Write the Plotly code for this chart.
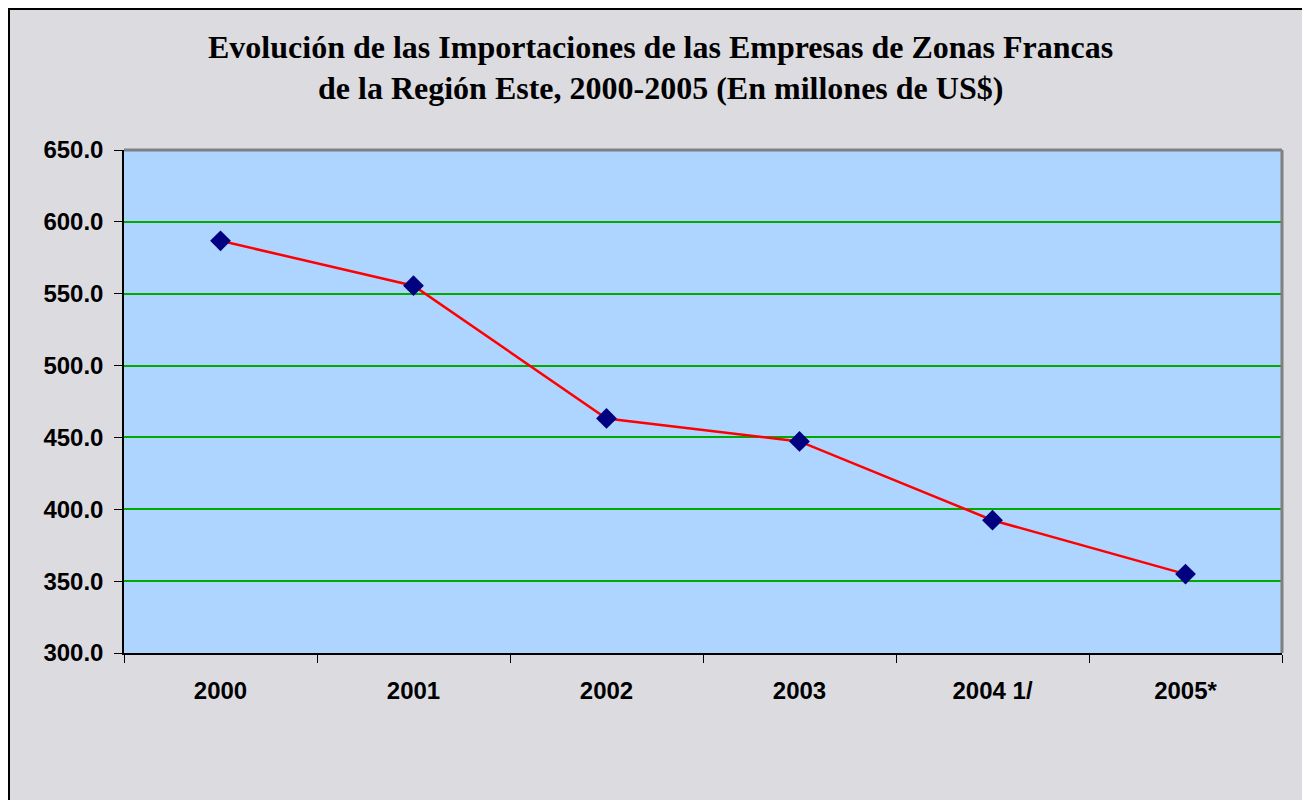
import plotly.graph_objects as go

years = ["2000", "2001", "2002", "2003", "2004 1/", "2005*"]
imports = [586.8, 555.6, 463.2, 447.2, 392.4, 354.9]
y_ticks = [300, 350, 400, 450, 500, 550, 600, 650]
title_lines = [
    "Evolución de las Importaciones de las Empresas de Zonas Francas",
    "de la Región Este, 2000-2005 (En millones de US$)",
]

# page offset from default body margin
OFF = 8
W, H = 1310 - OFF, 800 - OFF
L, R, T, B = 124 - OFF, 28, 150 - OFF, 147
pw, ph = W - L - R, H - T - B


def px_x(xp):
    return (xp - 124) / pw


def px_y(yp):
    return 1 + (150 - yp) / ph


fig = go.Figure()
fig.add_trace(go.Scatter(
    x=years, y=imports, mode="lines+markers",
    line=dict(color="#FF0000", width=2.5),
    marker=dict(symbol="diamond", size=16, color="#000080",
                line=dict(color="#000080", width=0)),
    cliponaxis=False, showlegend=False,
))

title_font = dict(family="Liberation Serif, Times New Roman, serif", size=32,
                  color="#000000", weight="bold")
annotations = [
    dict(text=title_lines[0], xref="paper", yref="paper", x=px_x(660), y=px_y(47),
         xanchor="center", yanchor="middle", showarrow=False, font=title_font),
    dict(text=title_lines[1], xref="paper", yref="paper", x=px_x(660), y=px_y(88),
         xanchor="center", yanchor="middle", showarrow=False, font=title_font),
]

tick_font = dict(family="Liberation Sans, Arial, sans-serif", size=24,
                 color="#000000", weight="bold")

fig.update_layout(
    template="none",
    width=W, height=H,
    margin=dict(l=L, r=R, t=T, b=B),
    paper_bgcolor="#DCDCE0",
    plot_bgcolor="#ADD5FF",
    annotations=annotations,
    xaxis=dict(
        type="category", range=[-0.5, 5.5],
        tickson="boundaries", ticks="outside", ticklen=8, tickcolor="#000000",
        tickwidth=1,
        showline=True, linecolor="#000000", linewidth=1.5,
        showgrid=False, zeroline=False,
        tickfont=tick_font,
        ticklabelstandoff=15,
    ),
    yaxis=dict(
        range=[300, 650], tickvals=y_ticks,
        ticktext=[f"{v:.1f}" for v in y_ticks],
        ticks="outside", ticklen=8, tickcolor="#000000", tickwidth=1,
        showline=True, linecolor="#000000", linewidth=1.5,
        showgrid=True, gridcolor="rgb(0,170,0)", gridwidth=1.5,
        zeroline=False,
        tickfont=tick_font,
        ticklabelstandoff=6,
    ),
    shapes=[
        dict(type="line", xref="paper", yref="paper", x0=0, x1=1, y0=1, y1=1,
             line=dict(color="#808080", width=3)),
        dict(type="line", xref="paper", yref="paper", x0=1, x1=1, y0=0, y1=1,
             line=dict(color="#808080", width=3)),
        dict(type="rect", xref="paper", yref="paper",
             x0=(-L + 1) / pw, x1=(W + 20 - L) / pw,
             y0=-(B + 20) / ph, y1=1 + (T - 1) / ph,
             line=dict(color="#000000", width=2), fillcolor="rgba(0,0,0,0)",
             layer="above"),
    ],
)

fig.write_html("out.html")
